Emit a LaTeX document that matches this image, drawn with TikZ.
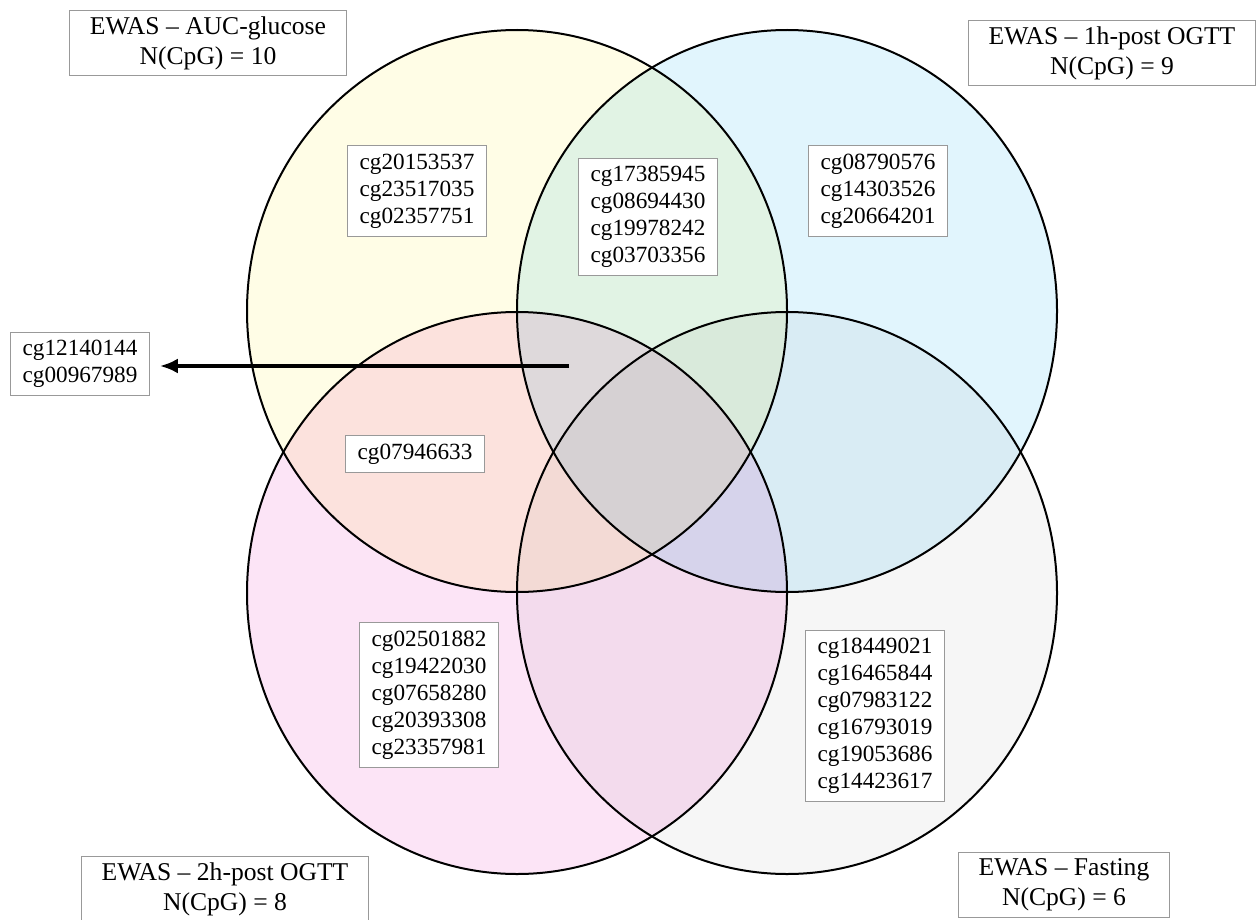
\documentclass[tikz,border=0pt]{standalone}
\usepackage{fontspec}
\setmainfont{Liberation Serif}
\usetikzlibrary{arrows.meta}
\usetikzlibrary{positioning}
\usepackage{xcolor}

\definecolor{aucfill}{HTML}{FFFDE6}
\definecolor{onehfill}{HTML}{E1F5FD}
\definecolor{twohfill}{HTML}{FCE4F6}
\definecolor{fastfill}{HTML}{F6F6F6}
\definecolor{boxline}{HTML}{999999}

\tikzset{
  cpgbox/.style={draw=boxline, line width=0.5pt, fill=white, align=center,
    inner xsep=6pt, inner ysep=4pt, font=\fontsize{11.6}{13.5}\selectfont},
  titlebox/.style={draw=boxline, line width=0.5pt, fill=white, align=center,
    inner xsep=10pt, inner ysep=3pt, font=\fontsize{12.8}{15}\selectfont},
  setline/.style={draw=black, line width=1pt},
  arrowline/.style={line width=2pt, -{Latex[length=9pt, width=7.5pt]}}
}

\begin{document}
\begin{tikzpicture}[x=0.5pt, y=-0.5pt]
    \useasboundingbox (0,0) rectangle (1258,920);

    % Four sets
    \begin{scope}[blend mode=multiply]
      \fill[aucfill]  (517,311) ellipse [x radius=135pt, y radius=140.5pt];
      \fill[onehfill] (787,311) ellipse [x radius=135pt, y radius=140.5pt];
      \fill[twohfill] (517,593) ellipse [x radius=135pt, y radius=140.5pt];
      \fill[fastfill] (787,593) ellipse [x radius=135pt, y radius=140.5pt];
    \end{scope}
    \draw[setline] (517,311) ellipse [x radius=135pt, y radius=140.5pt];
    \draw[setline] (787,311) ellipse [x radius=135pt, y radius=140.5pt];
    \draw[setline] (517,593) ellipse [x radius=135pt, y radius=140.5pt];
    \draw[setline] (787,593) ellipse [x radius=135pt, y radius=140.5pt];

    % Set titles
    \node[titlebox] (auc) at (208,43) {EWAS -- AUC-glucose\\N(CpG) = 10};
    \node[titlebox] (oneh) at (1112,53) {EWAS -- 1h-post OGTT\\N(CpG) = 9};
    \node[titlebox] (twoh) at (225,889) {EWAS -- 2h-post OGTT\\N(CpG) = 8};
    \node[titlebox] (fast) at (1064,885) {EWAS -- Fasting\\N(CpG) = 6};

    % CpG sites
    \node[cpgbox] (aucOnly) at (417,191) {cg20153537\\cg23517035\\cg02357751};
    \node[cpgbox] (aucOneh) at (648,217) {cg17385945\\cg08694430\\cg19978242\\cg03703356};
    \node[cpgbox] (onehOnly) at (878,191) {cg08790576\\cg14303526\\cg20664201};
    \node[cpgbox] (aucTwoh) at (415,454) {cg07946633};
    \node[cpgbox] (twohOnly) at (429,695) {cg02501882\\cg19422030\\cg07658280\\cg20393308\\cg23357981};
    \node[cpgbox] (fastOnly) at (875,716) {cg18449021\\cg16465844\\cg07983122\\cg16793019\\cg19053686\\cg14423617};
    \node[cpgbox] (threeSet) at (80,364) {cg12140144\\cg00967989};

    \coordinate (threeTail) at (569,366);
    \draw[arrowline, shorten >=5pt] (threeTail) -- (threeSet.east |- threeTail);
\end{tikzpicture}
\end{document}
